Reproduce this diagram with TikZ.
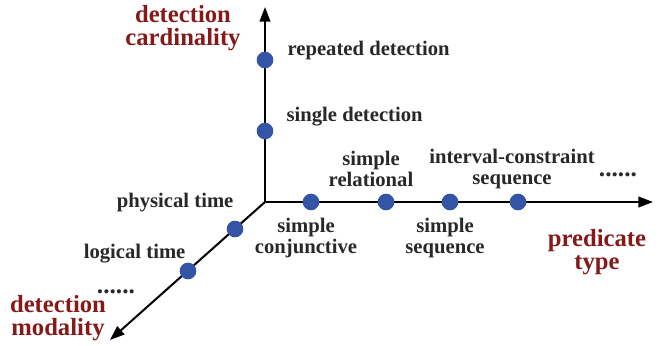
\documentclass[tikz,border=0pt]{standalone}
\usepackage{fontspec}
\setmainfont{Liberation Serif}
\usepackage{xcolor}
\usetikzlibrary{positioning,arrows.meta}
\definecolor{dotblue}{RGB}{52,84,166}
\definecolor{axisred}{RGB}{132,26,26}
\definecolor{txtgray}{RGB}{40,40,40}

\begin{document}
\begin{tikzpicture}[x=0.75pt, y=0.75pt,
    axis/.style = {line width=1.5pt, -{Triangle[length=11pt, width=8pt]}},
    dot/.style = {circle, fill=dotblue, inner sep=0pt, minimum size=12.5pt},
    lbl/.style = {font=\fontsize{15.5}{15.5}\selectfont\bfseries, text=txtgray, align=center, inner sep=1pt},
    more/.style = {lbl, font=\fontsize{19}{19}\selectfont\bfseries},
    axlbl/.style = {font=\fontsize{18.5}{17.5}\selectfont\bfseries, text=axisred, align=center, inner sep=1pt}]
        \useasboundingbox (-265,-144) rectangle (400,202);

        % axes
        \coordinate (O) at (0,0);
        \coordinate (ctip) at (0,195);
        \coordinate (ptip) at (388,0);
        \coordinate (mtip) at (-155,-138);
        \draw[axis] (O) -- (ctip);
        \draw[axis] (O) -- (ptip);
        \draw[axis] (O) -- (mtip);

        % points on the axes
        \node[dot] (sd) at (0,71) {};
        \node[dot] (rd) at (0,142) {};
        \node[dot] (sc) at (46,0) {};
        \node[dot] (sr) at (121,0) {};
        \node[dot] (ss) at (185,0) {};
        \node[dot] (ic) at (253,0) {};
        \node[dot] (pt) at (-30,-27) {};
        \node[dot] (lt) at (-77,-69) {};

        % labels
        \node[lbl, anchor=west] (rdl) at ([shift={(21,9)}]rd) {repeated detection};
        \node[lbl, anchor=west] (sdl) at ([shift={(20,14)}]sd) {single detection};
        \node[lbl] (scl) at ([shift={(-5,-36)}]sc) {simple\\conjunctive};
        \node[lbl] (srl) at ([shift={(-15,33)}]sr) {simple\\relational};
        \node[lbl] (ssl) at ([shift={(-5,-36)}]ss) {simple\\sequence};
        \node[lbl] (icl) at ([shift={(-6,33)}]ic) {interval-constraint\\sequence};
        \node[more] (pdots) at ([shift={(-35,27)}]ptip) {......};
        \node[lbl, anchor=east] (ptl) at ([shift={(0,26)}]pt) {physical time};
        \node[lbl, anchor=east] (ltl) at ([shift={(-1,17)}]lt) {logical time};
        \node[more] (mdots) at ([shift={(-72,-21)}]lt) {......};

        \node[axlbl] (card) at ([shift={(-82,-21)}]ctip) {detection\\cardinality};
        \node[axlbl] (pred) at ([shift={(-56,-50)}]ptip) {predicate\\type};
        \node[axlbl] (moda) at ([shift={(-52,22)}]mtip) {detection\\modality};
    \end{tikzpicture}
\end{document}
